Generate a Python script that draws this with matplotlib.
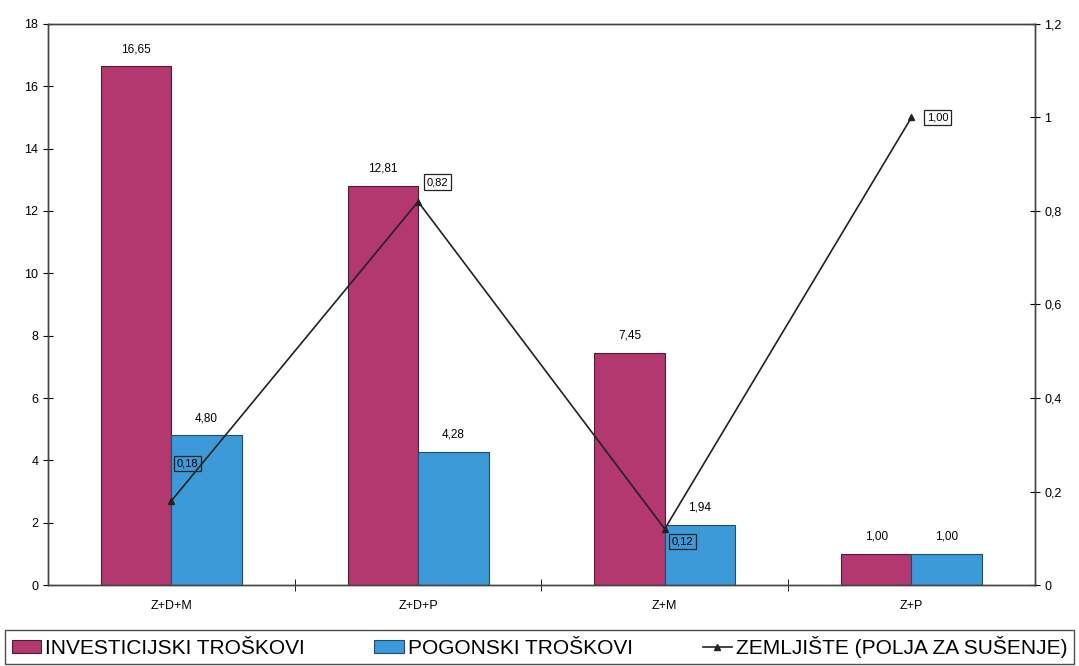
import numpy as np
import matplotlib.pyplot as plt
from matplotlib.ticker import FixedLocator, FuncFormatter

plt.rcParams['font.family'] = ['Liberation Sans', 'DejaVu Sans']

# podaci
kategorije = ["Z+D+M", "Z+D+P", "Z+M", "Z+P"]
investicijski = [16.65, 12.81, 7.45, 1.00]
pogonski = [4.80, 4.28, 1.94, 1.00]
zemljiste = [0.18, 0.82, 0.12, 1.00]

# pomaci oznaka za liniju (u točkama)
pomaci = [(4, 27), (6, 14), (5, -9), (11, 0)]

c_inv = "#b2386f"
c_pog = "#3d9ad8"

def zarez(v, dec=2):
    return f"{v:.{dec}f}".replace(".", ",")

fig = plt.figure(figsize=(10.79, 6.66), dpi=100)
ax = fig.add_axes([0.0445, 0.1216, 0.9145, 0.8424])
ax2 = ax.twinx()

x = np.arange(len(kategorije))
w = 0.2857

b1 = ax.bar(x - w / 2, investicijski, w, color=c_inv, edgecolor="#4a2030", linewidth=0.8,
            label="INVESTICIJSKI TROŠKOVI")
b2 = ax.bar(x + w / 2, pogonski, w, color=c_pog, edgecolor="#1f4d70", linewidth=0.8,
            label="POGONSKI TROŠKOVI")

for xi, v in zip(x - w / 2, investicijski):
    ax.text(xi, v + 0.35, zarez(v), ha="center", va="bottom", fontsize=8.5)
for xi, v in zip(x + w / 2, pogonski):
    ax.text(xi, v + 0.35, zarez(v), ha="center", va="bottom", fontsize=8.5)

ln, = ax2.plot(x, zemljiste, color="#222222", lw=1.2, marker="^", markersize=4,
               label="ZEMLJIŠTE (POLJA ZA SUŠENJE)")
for xi, v, off in zip(x, zemljiste, pomaci):
    ax2.annotate(zarez(v), (xi, v), xytext=off, textcoords="offset points",
                 ha="left", va="center", fontsize=8,
                 bbox=dict(boxstyle="square,pad=0.25", fc="none", ec="#222222", lw=0.9))

ax.set_xlim(-0.5, 3.5)
ax.set_ylim(0, 18)
ax2.set_ylim(0, 1.2)
ax.set_yticks(np.arange(0, 19, 2))
ax2.set_yticks(np.arange(0, 1.21, 0.2))
ax2.yaxis.set_major_formatter(FuncFormatter(
    lambda v, p: "0" if abs(v) < 1e-9 else ("1" if abs(v - 1) < 1e-9 else zarez(v, 1))))

ax.set_xticks(x)
ax.set_xticklabels(kategorije, fontsize=9)
ax.xaxis.set_minor_locator(FixedLocator([0.5, 1.5, 2.5]))
ax.tick_params(axis="x", which="major", length=0, pad=11)
ax.tick_params(axis="x", which="minor", direction="inout", length=8)
ax.tick_params(axis="y", direction="inout", length=7, labelsize=9)
ax2.tick_params(axis="y", direction="inout", length=7, labelsize=9)

for a in (ax, ax2):
    for s in a.spines.values():
        s.set_color("#444444")
        s.set_linewidth(1.0)

fig.legend(handles=[b1, b2, ln], loc="lower left", bbox_to_anchor=(0.005, 0.003, 0.99, 0.055),
           mode="expand", ncol=3, fontsize=15, frameon=True, fancybox=False,
           edgecolor="#222222", handlelength=1.4, handleheight=0.6, handletextpad=0.2,
           borderpad=0.3, borderaxespad=0.0, columnspacing=1.0)

fig.savefig("out.png", dpi=100)
